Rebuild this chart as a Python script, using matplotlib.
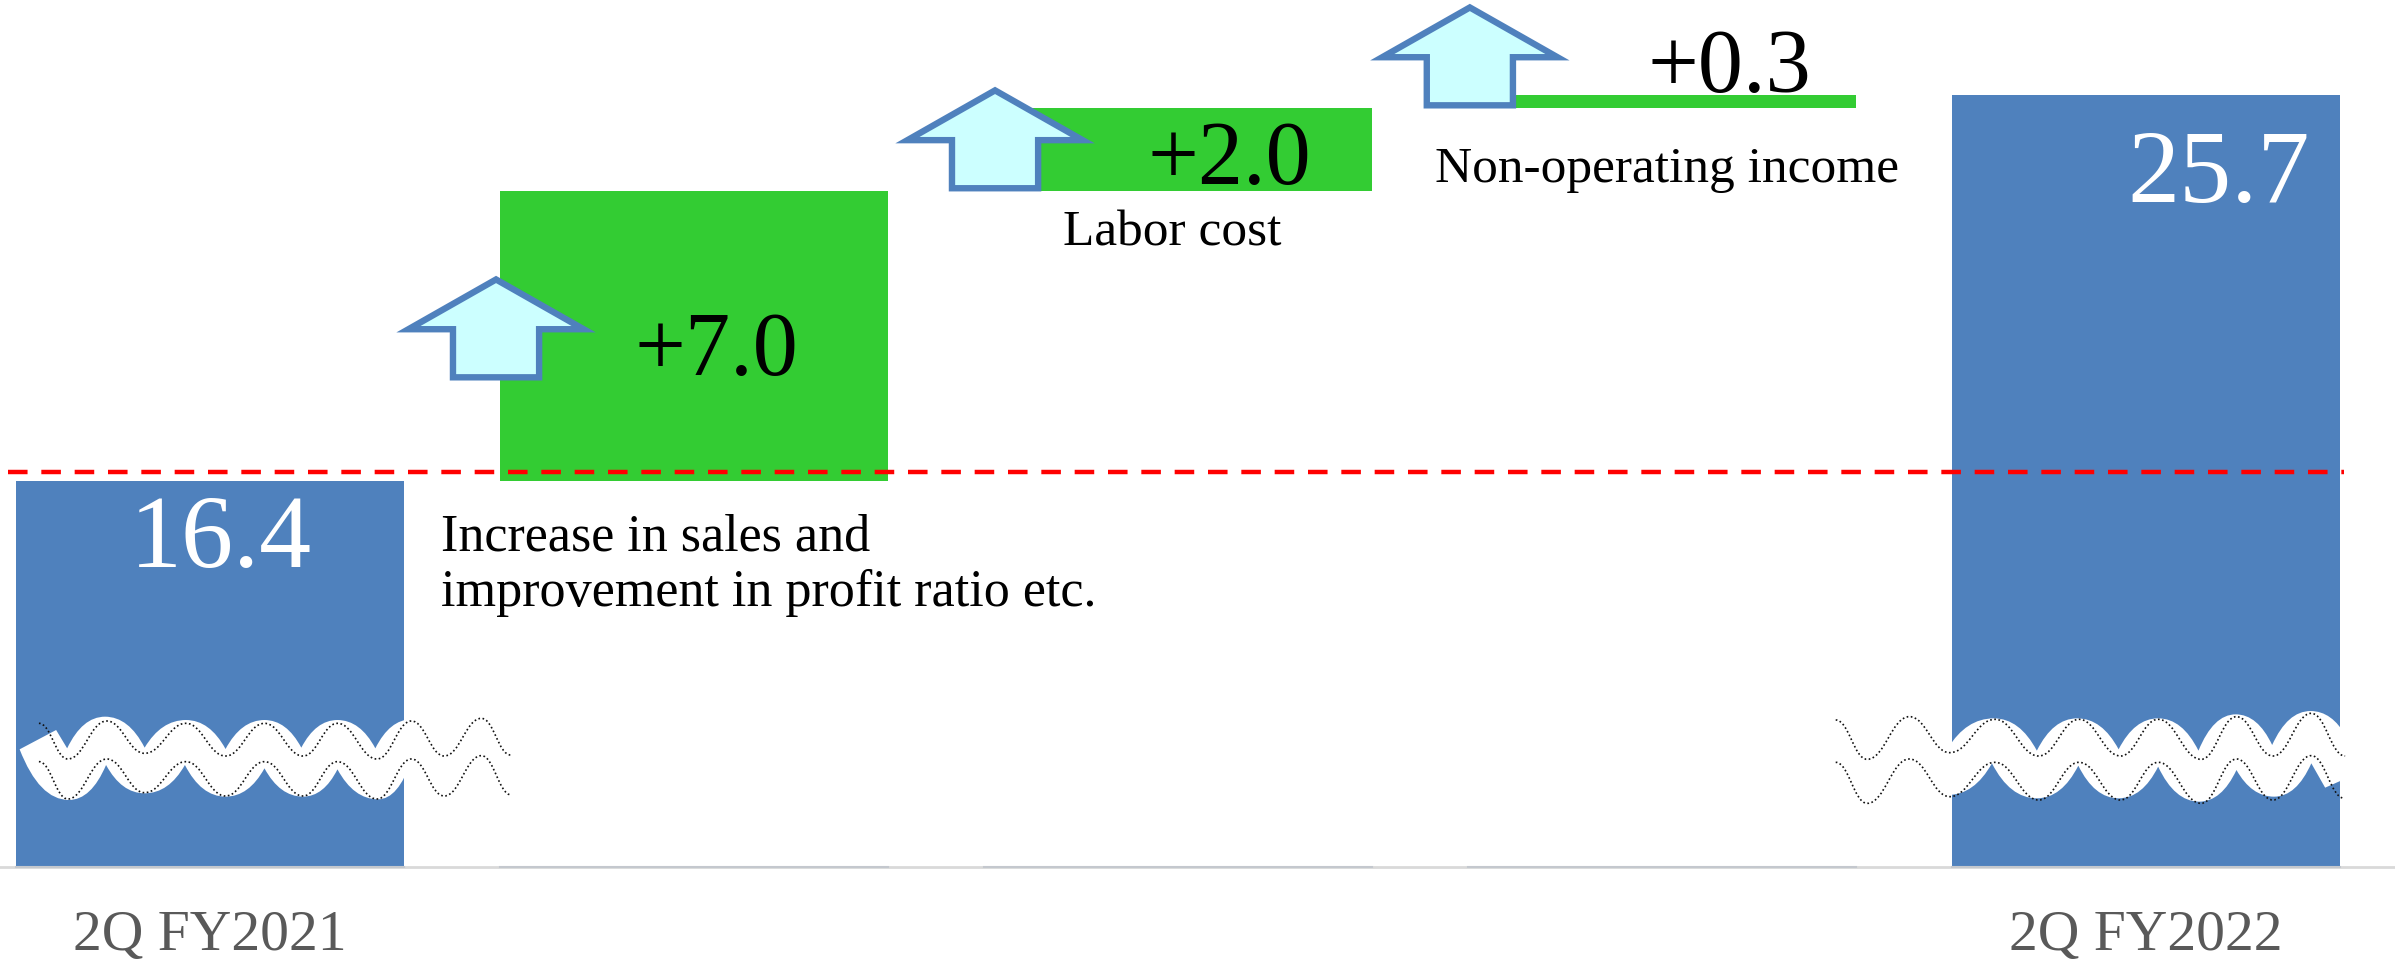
import matplotlib
matplotlib.use("Agg")
import matplotlib.pyplot as plt
from matplotlib.path import Path
from matplotlib.patches import PathPatch
from matplotlib.transforms import Affine2D

plt.rcParams['font.family'] = ['Liberation Serif', 'DejaVu Serif']

# data
categories = ["2Q FY2021", "", "", "", "2Q FY2022"]
start_value = 16.4
end_value = 25.7
deltas = [7.0, 2.0, 0.3]
delta_names = ["Increase in sales and\nimprovement in profit ratio etc.", "Labor cost", "Non-operating income"]
reference_level = 16.62
axis_floor = 7.09
y_top = 28.0

BLUE = "#4F81BD"
GREEN = "#33CC33"
W, H = 2395, 959

fig = plt.figure(figsize=(W / 100, H / 100), dpi=100)
ax = fig.add_axes([0, (H - 867) / H, 1, 867 / H])
ax.set_xlim(-210 / 484, (W - 210) / 484)
ax.set_ylim(axis_floor, y_top)

# image pixels, y going down (used for the decorations and free text)
pix = Affine2D().scale(1, -1).translate(0, H)

# bars
x = list(range(len(categories)))
tops = [start_value]
for d in deltas:
  tops.append(tops[-1] + d)
bottoms = [axis_floor] + tops[:-1] + [axis_floor]
heights = [start_value - axis_floor] + deltas + [end_value - axis_floor]
colors = [BLUE, GREEN, GREEN, GREEN, BLUE]
ax.bar(x, heights, bottom=bottoms, width=0.8, color=colors, zorder=2)

# axis
for name, spine in ax.spines.items():
  spine.set_visible(name == "bottom")
ax.spines["bottom"].set_color("#D9D9D9")
ax.spines["bottom"].set_linewidth(2)
ax.set_yticks([])
ax.set_xticks([0, 4])
ax.set_xticklabels([categories[0], categories[4]], fontsize=41.5, color="#595959")
ax.tick_params(axis="x", length=0, pad=31)
for c in x:
  ax.plot([c - 0.4, c + 0.4], [axis_floor, axis_floor], color="#C4C8CE", lw=1.5,
          zorder=3, clip_on=False)

# block arrows sitting on the floating bars
arrow_x = [0.591, 1.622, 2.603]
arrow_base = [18.9, tops[1] + 0.06, tops[2] + 0.06]
for ax_x, base in zip(arrow_x, arrow_base):
  ax.arrow(ax_x, base, 0, 2.36, width=0.178, head_width=0.362, head_length=1.2,
           length_includes_head=True, facecolor="#CCFFFF", edgecolor=BLUE,
           linewidth=4.6, joinstyle="miter", zorder=5)

# red reference line
ax.plot([-0.417, 4.41], [reference_level, reference_level], color="#FF0000", lw=3.2,
        dashes=(4.4, 3.1), zorder=6)


def wave(points):
  # smooth curve with flat tangents at each peak and trough
  verts = [points[0]]
  codes = [Path.MOVETO]
  for a, b in zip(points, points[1:]):
    dx = (b[0] - a[0]) * 0.42
    verts += [(a[0] + dx, a[1]), (b[0] - dx, b[1]), b]
    codes += [Path.CURVE4] * 3
  return verts, codes


def arches(points):
  # like wave, but points flagged 1 are sharp: (x, y, is_cusp)
  verts = [points[0][:2]]
  codes = [Path.MOVETO]
  for a, b in zip(points, points[1:]):
    if a[2] == b[2]:
      verts.append(b[:2])
      codes.append(Path.LINETO)
    elif a[2]:
      verts += [(a[0] + (b[0] - a[0]) * 0.4, b[1]), b[:2]]
      codes += [Path.CURVE3] * 2
    else:
      verts += [(b[0] - (b[0] - a[0]) * 0.4, a[1]), b[:2]]
      codes += [Path.CURVE3] * 2
  return verts, codes


def zoom_pts(pts, sx, x0):
  return [(x0 + p[0] / sx, 660 + p[1] / 3) + tuple(p[2:]) for p in pts]


def band(upper, lower):
  v1, c1 = arches(upper)
  v2, c2 = arches(lower[::-1])
  verts = v1 + v2 + [v1[0]]
  codes = c1 + [Path.LINETO] + c2[1:] + [Path.CLOSEPOLY]
  ax.add_patch(PathPatch(Path(verts, codes), facecolor="white", edgecolor="none",
                         transform=pix, zorder=3, clip_on=False))


def dotted(points):
  v, c = wave(points)
  ax.add_patch(PathPatch(Path(v, c), facecolor="none", edgecolor="#111111", lw=1.2,
                         linestyle=(0, (1, 1.5)), transform=pix, zorder=4, clip_on=False))


# break marks on the left bar
left_sx = 2.904
band(zoom_pts([(163, 210, 1), (195, 265, 1), (305, 170, 0), (420, 263, 1), (540, 180, 0), (655, 267, 1),
               (768, 180, 0), (875, 263, 1), (980, 180, 0), (1090, 265, 1), (1195, 178, 0)], left_sx, 0),
     zoom_pts([(57, 268, 1), (200, 420, 0), (308, 315, 1), (420, 400, 0), (537, 315, 1), (655, 410, 0),
               (768, 325, 1), (880, 410, 0), (980, 328, 1), (1098, 418, 0), (1195, 300, 1)], left_sx, 0))
dotted(zoom_pts([(113, 190), (197, 297), (310, 183), (420, 280), (540, 190), (655, 288), (768, 190),
                 (880, 288), (980, 190), (1095, 297), (1195, 183), (1290, 288), (1398, 175), (1483, 285)], left_sx, 0))
dotted(zoom_pts([(113, 305), (197, 417), (310, 297), (420, 398), (540, 305), (655, 408), (768, 305),
                 (880, 408), (980, 305), (1095, 417), (1195, 297), (1290, 408), (1398, 287), (1485, 405)], left_sx, 0))

# break marks on the right bar
right_sx = 2.605
band(zoom_pts([(385, 265, 1), (505, 175, 0), (617, 272, 1), (722, 175, 0), (830, 268, 1), (933, 175, 0),
               (1038, 272, 1), (1135, 163, 0), (1230, 255, 1), (1330, 153, 0), (1423, 230, 1)], right_sx, 1800),
     zoom_pts([(385, 405, 0), (500, 310, 1), (617, 415, 0), (725, 317, 1), (830, 415, 0), (933, 320, 1),
               (1040, 425, 0), (1137, 330, 1), (1235, 410, 0), (1332, 310, 1), (1368, 383, 1), (1423, 355, 1)], right_sx, 1800))
dotted(zoom_pts([(93, 180), (175, 298), (285, 170), (390, 278), (508, 178), (622, 288), (727, 178),
                 (835, 288), (933, 178), (1045, 298), (1137, 170), (1232, 288), (1332, 160), (1420, 288)], right_sx, 1800))
dotted(zoom_pts([(93, 307), (175, 430), (285, 297), (390, 410), (508, 307), (622, 420), (727, 307),
                 (835, 420), (933, 307), (1045, 430), (1137, 297), (1232, 420), (1332, 287), (1418, 415)], right_sx, 1800))

# text
ax.text(221, 531, f"{start_value}", transform=pix, color="white", fontsize=75, ha="center", va="center_baseline", zorder=7)
ax.text(2219, 166, f"{end_value}", transform=pix, color="white", fontsize=75, ha="center", va="center_baseline", zorder=7)
ax.text(716, 343, f"+{deltas[0]:.1f}", transform=pix, fontsize=65, ha="center", va="center_baseline", zorder=7)
ax.text(1229, 152, f"+{deltas[1]:.1f}", transform=pix, fontsize=65, ha="center", va="center_baseline", zorder=7)
ax.text(1729, 60, f"+{deltas[2]:.1f}", transform=pix, fontsize=65, ha="center", va="center_baseline", zorder=7)
ax.text(441, 606, delta_names[0], transform=pix, fontsize=37.5, ha="left", va="baseline", linespacing=1.2, zorder=7)
ax.text(1172, 228, delta_names[1], transform=pix, fontsize=37, ha="center", va="center_baseline", zorder=7)
ax.text(1667, 164, delta_names[2], transform=pix, fontsize=37, ha="center", va="center_baseline", zorder=7)

fig.savefig("out.png", dpi=100, facecolor="white")
